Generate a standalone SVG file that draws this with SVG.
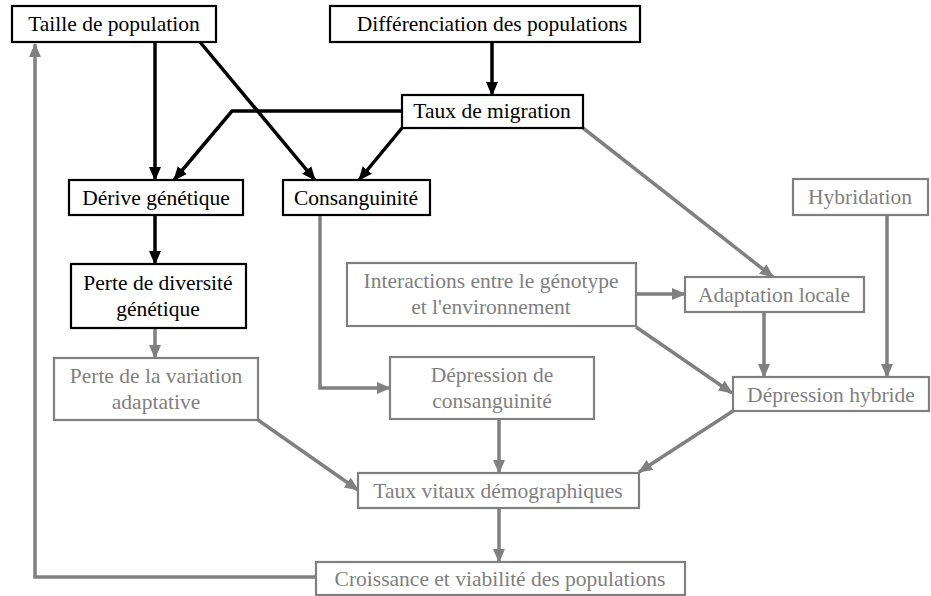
<svg xmlns="http://www.w3.org/2000/svg" width="931" height="596" viewBox="0 0 931 596">
<style>
.bk rect{fill:#fff;stroke:#000;stroke-width:2.2}
.gr rect{fill:#fff;stroke:#808080;stroke-width:2.2}
.bk text{fill:#000}
.gr text{fill:#7f7f7f}
.cb{fill:none;stroke:#000;stroke-width:3.5}
.cg{fill:none;stroke:#808080;stroke-width:3.5}
</style>
<defs>
<marker id="ab" markerUnits="userSpaceOnUse" markerWidth="16" markerHeight="14" refX="13" refY="7" orient="auto"><path d="M0,1 L14,7 L0,13 Z" fill="#000"/></marker>
<marker id="ag" markerUnits="userSpaceOnUse" markerWidth="16" markerHeight="14" refX="13" refY="7" orient="auto"><path d="M0,1 L14,7 L0,13 Z" fill="#808080"/></marker>
</defs>
<g id="connectors">
<path class="cb" d="M155,42 V180" marker-end="url(#ab)"/>
<path class="cb" d="M200,42 L315,180" marker-end="url(#ab)"/>
<path class="cb" d="M492,42 V95" marker-end="url(#ab)"/>
<path class="cb" d="M402,111 H232 L174,180" marker-end="url(#ab)"/>
<path class="cb" d="M402,128 L359,180" marker-end="url(#ab)"/>
<path class="cb" d="M155,215 V264" marker-end="url(#ab)"/>
<path class="cg" d="M583,128 L773,277" marker-end="url(#ag)"/>
<path class="cg" d="M155,328 V358" marker-end="url(#ag)"/>
<path class="cg" d="M320,215 V388 H390" marker-end="url(#ag)"/>
<path class="cg" d="M636,294 H685" marker-end="url(#ag)"/>
<path class="cg" d="M636,327 L732,393" marker-end="url(#ag)"/>
<path class="cg" d="M764,312 V377" marker-end="url(#ag)"/>
<path class="cg" d="M887,215 V377" marker-end="url(#ag)"/>
<path class="cg" d="M258,420 L358,490" marker-end="url(#ag)"/>
<path class="cg" d="M499,419 V473" marker-end="url(#ag)"/>
<path class="cg" d="M733,411 L639,472" marker-end="url(#ag)"/>
<path class="cg" d="M499,508 V562" marker-end="url(#ag)"/>
<path class="cg" d="M316,577 H35 V44" marker-end="url(#ag)"/>
</g>
<g font-family="Liberation Serif, Tinos, DejaVu Serif, Noto Serif, serif" font-size="21.5" text-anchor="middle">
<g id="taille" class="bk"><rect x="12" y="6" width="204" height="36"/><text x="114" y="31">Taille de population</text></g>
<g id="differenciation" class="bk"><rect x="330" y="6" width="310" height="36"/><text x="492" y="31">Différenciation des populations</text></g>
<g id="migration" class="bk"><rect x="402" y="95" width="181" height="33"/><text x="492" y="118">Taux de migration</text></g>
<g id="derive" class="bk"><rect x="69" y="180" width="174" height="35"/><text x="156" y="205">Dérive génétique</text></g>
<g id="consanguinite" class="bk"><rect x="283" y="180" width="147" height="35"/><text x="356" y="205">Consanguinité</text></g>
<g id="perte-diversite" class="bk"><rect x="71" y="264" width="175" height="64"/><text x="158" y="290">Perte de diversité</text><text x="158" y="316">génétique</text></g>
<g id="perte-variation" class="gr"><rect x="54" y="358" width="204" height="62"/><text x="156" y="383">Perte de la variation</text><text x="156" y="409">adaptative</text></g>
<g id="interactions" class="gr"><rect x="347" y="263" width="289" height="63"/><text x="491" y="288">Interactions entre le génotype</text><text x="491" y="314">et l'environnement</text></g>
<g id="adaptation" class="gr"><rect x="685" y="277" width="179" height="35"/><text x="774" y="302">Adaptation locale</text></g>
<g id="hybridation" class="gr"><rect x="793" y="179" width="135" height="36"/><text x="860" y="204">Hybridation</text></g>
<g id="depression-consanguinite" class="gr"><rect x="390" y="357" width="204" height="62"/><text x="492" y="382">Dépression de</text><text x="492" y="408">consanguinité</text></g>
<g id="depression-hybride" class="gr"><rect x="733" y="377" width="196" height="34"/><text x="831" y="402">Dépression hybride</text></g>
<g id="taux-vitaux" class="gr"><rect x="358" y="473" width="281" height="35"/><text x="498" y="498">Taux vitaux démographiques</text></g>
<g id="croissance" class="gr"><rect x="316" y="562" width="369" height="33"/><text x="500" y="586">Croissance et viabilité des populations</text></g>
</g>
</svg>
